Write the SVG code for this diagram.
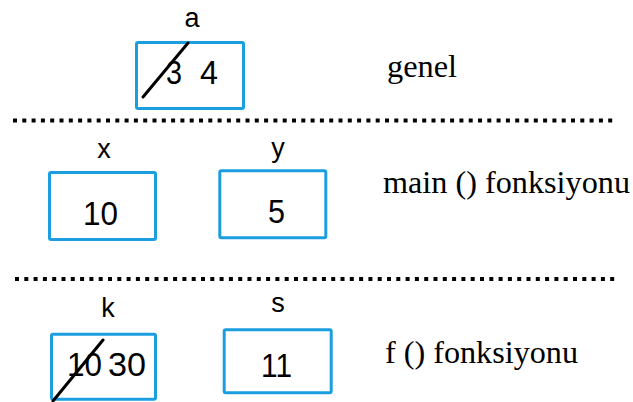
<svg xmlns="http://www.w3.org/2000/svg" width="633" height="402" viewBox="0 0 633 402">
  <style>
    .cell { fill: #ffffff; stroke: #1b9ee0; stroke-width: 3; }
    .sep { stroke: #000000; stroke-width: 4; stroke-dasharray: 4 5.3; fill: none; }
    .strike { stroke: #000000; stroke-width: 3; stroke-linecap: round; }
    .name { font-family: "Liberation Sans", Arial, sans-serif; font-size: 27px; fill: #000000; text-anchor: middle; }
    .val { font-family: "Liberation Sans", Arial, sans-serif; font-size: 34px; fill: #000000; }
    .scope { font-family: "Liberation Serif", "Times New Roman", serif; font-size: 31px; fill: #000000; }
  </style>
  <rect width="633" height="402" fill="#ffffff"/>

  <!-- scope separators -->
  <g id="separators">
    <line class="sep" x1="13" y1="120.5" x2="614" y2="120.5"/>
    <line class="sep" x1="15" y1="279" x2="617" y2="279"/>
  </g>

  <!-- global scope -->
  <g id="var-a">
    <text class="name" x="192" y="27">a</text>
    <rect class="cell" x="136.5" y="42.5" width="107" height="66" rx="1.5"/>
    <text class="val" x="166" y="84" textLength="16" lengthAdjust="spacingAndGlyphs">3</text>
    <text class="val" x="200" y="84" textLength="18" lengthAdjust="spacingAndGlyphs">4</text>
    <line class="strike" x1="143" y1="97" x2="188" y2="43"/>
  </g>
  <g id="label-genel">
    <text class="scope" x="387" y="77" textLength="70" lengthAdjust="spacingAndGlyphs">genel</text>
  </g>

  <!-- main() scope -->
  <g id="var-x">
    <text class="name" x="104" y="158">x</text>
    <rect class="cell" x="49.5" y="172.5" width="106" height="67" rx="1.5"/>
    <text class="val" x="83" y="225" textLength="35" lengthAdjust="spacingAndGlyphs">10</text>
  </g>
  <g id="var-y">
    <text class="name" x="278" y="157">y</text>
    <rect class="cell" x="219.8" y="170.8" width="106" height="67" rx="1.5"/>
    <text class="val" x="268" y="223" textLength="17" lengthAdjust="spacingAndGlyphs">5</text>
  </g>
  <g id="label-main">
    <text class="scope" x="383" y="193" textLength="247" lengthAdjust="spacingAndGlyphs">main () fonksiyonu</text>
  </g>

  <!-- f() scope -->
  <g id="var-k">
    <text class="name" x="108" y="317">k</text>
    <rect class="cell" x="51.5" y="334.2" width="104" height="65" rx="1.5"/>
    <text class="val" x="67" y="376" textLength="35" lengthAdjust="spacingAndGlyphs">10</text>
    <text class="val" x="108" y="376" textLength="38" lengthAdjust="spacingAndGlyphs">30</text>
    <line class="strike" x1="53" y1="401" x2="103" y2="340"/>
  </g>
  <g id="var-s">
    <text class="name" x="278" y="312">s</text>
    <rect class="cell" x="224.2" y="329.8" width="107" height="63" rx="1.5"/>
    <text class="val" x="261" y="377" textLength="31" lengthAdjust="spacingAndGlyphs">11</text>
  </g>
  <g id="label-f">
    <text class="scope" x="385" y="363" textLength="193" lengthAdjust="spacingAndGlyphs">f () fonksiyonu</text>
  </g>
</svg>
